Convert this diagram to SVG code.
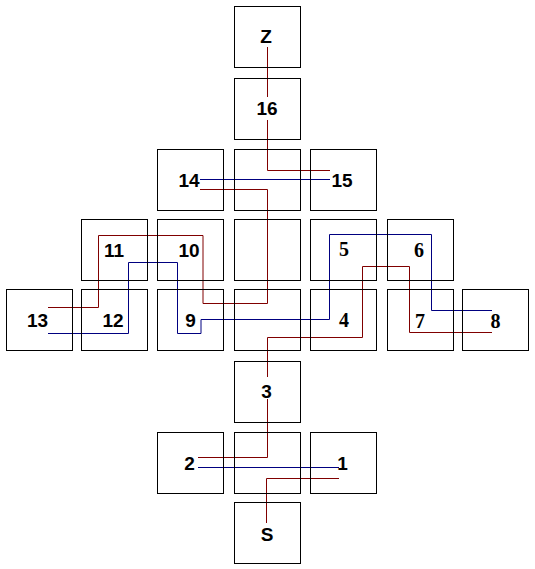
<svg xmlns="http://www.w3.org/2000/svg" width="535" height="569" viewBox="0 0 535 569">
<style>
.box{fill:none;stroke:#000;stroke-width:1}
.bg{fill:#fff}
.lbl{font-family:"Liberation Sans",Arial,sans-serif;font-weight:bold;font-size:19px;text-anchor:middle;fill:#000}
.lbs{font-family:"Liberation Serif","Times New Roman",serif;font-weight:bold;font-size:20px;text-anchor:middle;fill:#000}
.red{fill:none;stroke:#800000;stroke-width:1}
.blue{fill:none;stroke:#000080;stroke-width:1}
</style>
<rect width="535" height="569" fill="#fff"/>
<g id="connectors">
<path class="red" d="M267.5,47 V170.5 H330"/>
<path class="blue" d="M200,179.5 H330"/>
<path class="red" d="M200,189.5 H267.5 V303.5 H203 V235.5 H98.5 V307.5 H48"/>
<path class="blue" d="M48,333.5 H128.5 V262.5 H177.5 V333.5 H201 V319.5 H329.5 V234.5 H431.5 V310.5 H492"/>
<path class="red" d="M492,332.5 H409.5 V266.5 H362.5 V337.5 H267.5 V457.5 H198"/>
<path class="blue" d="M198,467.5 H339"/>
<path class="red" d="M339,478.5 H266.5 V523"/>
</g>
<g id="nZ"><rect class="box" x="234.5" y="6.5" width="66" height="61"/><text class="lbl" x="266" y="43">Z</text></g>
<g id="n16"><rect class="box" x="234.5" y="78.5" width="66" height="61"/><rect class="bg" x="256" y="97" width="22" height="23"/><text class="lbl" x="267" y="115">16</text></g>
<g id="n14"><rect class="box" x="157.5" y="149.5" width="66" height="61"/><text class="lbl" x="189" y="187">14</text></g>
<g id="e1"><rect class="box" x="234.5" y="149.5" width="66" height="61"/></g>
<g id="n15"><rect class="box" x="310.5" y="149.5" width="66" height="61"/><text class="lbl" x="342" y="187">15</text></g>
<g id="n11"><rect class="box" x="81.5" y="219.5" width="66" height="61"/><text class="lbl" x="114" y="257">11</text></g>
<g id="n10"><rect class="box" x="157.5" y="219.5" width="66" height="61"/><text class="lbl" x="189" y="257">10</text></g>
<g id="e2"><rect class="box" x="234.5" y="219.5" width="66" height="61"/></g>
<g id="n5"><rect class="box" x="310.5" y="219.5" width="66" height="61"/><text class="lbs" x="344" y="256">5</text></g>
<g id="n6"><rect class="box" x="387.5" y="219.5" width="66" height="61"/><text class="lbs" x="419" y="257">6</text></g>
<g id="n13"><rect class="box" x="6.5" y="289.5" width="66" height="61"/><text class="lbl" x="37.5" y="327">13</text></g>
<g id="n12"><rect class="box" x="81.5" y="289.5" width="66" height="61"/><text class="lbl" x="113" y="327">12</text></g>
<g id="n9"><rect class="box" x="157.5" y="289.5" width="66" height="61"/><text class="lbl" x="190.5" y="327">9</text></g>
<g id="e3"><rect class="box" x="234.5" y="289.5" width="66" height="61"/></g>
<g id="n4"><rect class="box" x="310.5" y="289.5" width="66" height="61"/><text class="lbs" x="344" y="327">4</text></g>
<g id="n7"><rect class="box" x="387.5" y="289.5" width="66" height="61"/><text class="lbs" x="420" y="328">7</text></g>
<g id="n8"><rect class="box" x="462.5" y="289.5" width="66" height="61"/><text class="lbs" x="495.5" y="328">8</text></g>
<g id="n3"><rect class="box" x="234.5" y="361.5" width="66" height="61"/><rect class="bg" x="258" y="377" width="18" height="22"/><text class="lbl" x="266.5" y="398">3</text></g>
<g id="n2"><rect class="box" x="157.5" y="432.5" width="66" height="61"/><text class="lbl" x="189.5" y="470">2</text></g>
<g id="e4"><rect class="box" x="234.5" y="432.5" width="66" height="61"/></g>
<g id="n1"><rect class="box" x="310.5" y="432.5" width="66" height="61"/><text class="lbl" x="342.5" y="470">1</text></g>
<g id="nS"><rect class="box" x="234.5" y="502.5" width="66" height="61"/><text class="lbl" x="267" y="541">S</text></g>
</svg>
